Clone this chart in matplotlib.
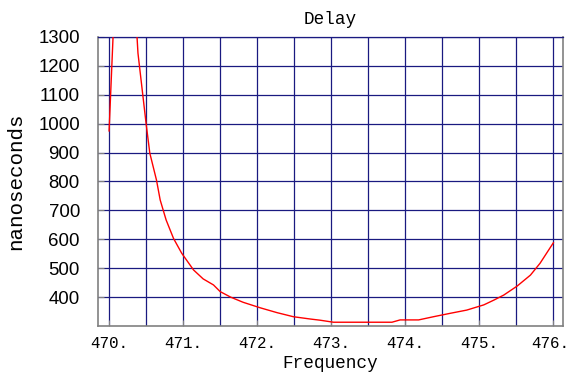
import numpy as np
import matplotlib
matplotlib.use("Agg")
import matplotlib.pyplot as plt
from matplotlib.transforms import ScaledTranslation

# Left branch (below pole) and right branch separated by NaN
freq = [470.0, 470.055, np.nan,
        470.375, 470.39, 470.5, 470.55, 470.64, 470.69, 470.77, 470.87, 470.98,
        471.14, 471.27, 471.41, 471.5, 471.64, 471.81, 472.04, 472.27, 472.49,
        472.72, 472.85, 473.03, 473.26, 473.5, 473.82, 473.93, 474.18, 474.38,
        474.61, 474.83, 475.06, 475.2, 475.33, 475.51, 475.69, 475.82, 476.0]
delay = [975, 1310, np.nan,
         1310, 1244, 1000, 898, 805, 736, 667, 603, 552,
         494, 463, 442, 419, 400, 382, 363, 346, 332,
         324, 320, 313, 313, 313, 313, 321, 321, 332,
         344, 355, 373, 390, 407, 438, 476, 517, 588]

xticks = [470, 471, 472, 473, 474, 475, 476]
xtick_labels = ["470.", "471.", "472.", "473.", "474.", "475.", "476."]
yticks = [400, 500, 600, 700, 800, 900, 1000, 1100, 1200, 1300]

mono = "Liberation Mono"
sans = "Liberation Sans"

fig = plt.figure(figsize=(5.71, 3.81), dpi=100)
ax = fig.add_axes([0.1716, 0.1444, 0.986 - 0.1716, 0.9029 - 0.1444])

ax.set_xlim(469.85, 476.13)
ax.set_ylim(300, 1300)

grid_color = "#1a1a80"
for gx in np.arange(470.0, 476.01, 0.5):
    ax.axvline(gx, color=grid_color, lw=0.9, zorder=1)
for gy in yticks:
    ax.axhline(gy, color=grid_color, lw=0.9, zorder=1)

ax.plot(freq, delay, color="red", lw=1.0, zorder=3)

ax.set_xticks(xticks)
ax.set_xticklabels(xtick_labels, fontfamily=mono, fontsize=11.4)
ax.set_yticks(yticks)
ax.set_yticklabels([str(v) for v in yticks], fontfamily=sans, fontsize=13.4)
ax.tick_params(direction="in", length=4, color="#808080")
ax.tick_params(axis="y", pad=13)
ax.tick_params(axis="x", pad=7)

# nudge the last x label slightly left so it stays inside the canvas
last = ax.get_xticklabels()[-1]
last.set_transform(last.get_transform() + ScaledTranslation(-3 / 100, 0, fig.dpi_scale_trans))

for side in ["left", "bottom", "right"]:
    ax.spines[side].set_color("#808080")
    ax.spines[side].set_linewidth(1.2)
ax.spines["top"].set_color(grid_color)
ax.spines["top"].set_linewidth(0.9)

ax.set_title("Delay", fontfamily=mono, fontsize=12.7, pad=9)
ax.set_xlabel("Frequency", fontfamily=mono, fontsize=12.8, labelpad=3)
ax.set_ylabel("nanoseconds", fontfamily=mono, fontsize=15, labelpad=9)

fig.savefig("out.png", dpi=100)
